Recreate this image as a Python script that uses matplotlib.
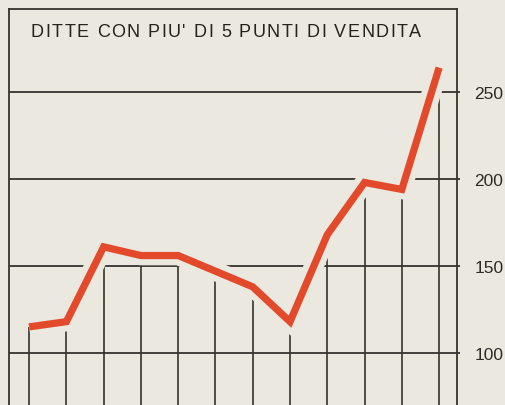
import matplotlib
matplotlib.use("Agg")
import matplotlib.pyplot as plt
import matplotlib.patheffects as pe
from matplotlib.font_manager import FontProperties, findfont, get_font

# ---- data ----
points = list(range(12))
values = [115, 118, 161, 156, 156, 147, 138, 118, 168, 198, 194, 264]
yticks = [100, 150, 200, 250]
ytick_labels = ["100", "150", "200", "250"]
title = "DITTE CON PIU' DI 5 PUNTI DI VENDITA"

BG = "#eae8df"
INK = "#36322d"
RED = "#e24a2b"

W, H = 505, 406
fig = plt.figure(figsize=(W / 100, H / 100), dpi=100, facecolor=BG)
ax = fig.add_axes([9 / W, 0, (457 - 9) / W, (H - 10) / H])
ax.set_facecolor(BG)

ax.set_xlim(-0.54, 11.48)
ax.set_ylim(70.1, 297.7)

for s in ["left", "right", "top"]:
    ax.spines[s].set_color(INK)
    ax.spines[s].set_linewidth(1.3)
ax.spines["bottom"].set_visible(False)

# gridlines (extend a bit past right frame)
ax.hlines(yticks, -0.54, 11.56, color=INK, lw=1.3, zorder=2, clip_on=False)

# stems
ax.vlines(points, 60, values, color=INK, lw=1.2, zorder=2)

# red line with paper-colored halo that breaks the grid
ax.plot(points, values, color=RED, lw=5.2, solid_joinstyle="miter",
        solid_capstyle="butt", zorder=5,
        path_effects=[pe.Stroke(linewidth=14, foreground=BG, capstyle="butt"),
                      pe.Normal()])

# right tick labels
ax.yaxis.tick_right()
ax.set_yticks(yticks)
ax.set_yticklabels(ytick_labels, fontfamily="Liberation Sans", fontsize=12.5,
                   color="#2e2a26")
ax.tick_params(axis="y", length=0, pad=12.5)
ax.set_xticks([])

# title with letter tracking
fs = 13
fp = FontProperties(family="Liberation Sans", size=fs)
font = get_font(findfont(fp))
font.set_size(fs, 100)
advs = [font.load_char(ord(c)).linearHoriAdvance / 65536 for c in title]
x0, x1 = 31, 421
track = ((x1 - x0) - sum(advs)) / (len(title) - 1)
x = x0
for c, a in zip(title, advs):
    fig.text(x / W, 1 - 37 / H, c, fontproperties=fp, color="#26221e",
             va="baseline", ha="left")
    x += a + track

fig.savefig("out.png", dpi=100, facecolor=BG)
